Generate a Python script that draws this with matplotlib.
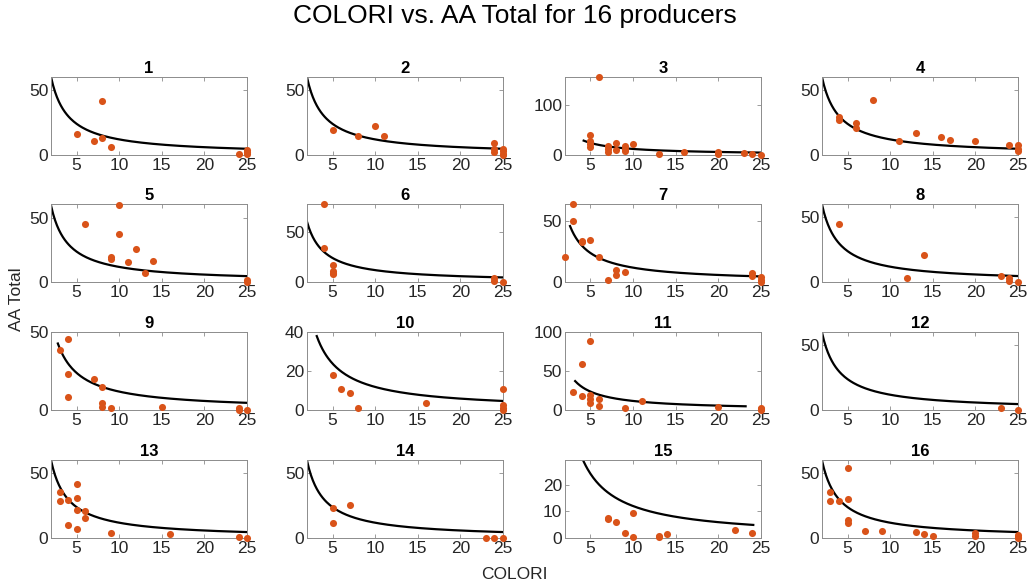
import numpy as np
import matplotlib
matplotlib.use('Agg')
import matplotlib.pyplot as plt

plt.rcParams['font.family'] = ['Liberation Sans', 'DejaVu Sans']

# COLORI / AA Total readings for each producer
colori = [
    [5, 7, 8, 8, 9, 24, 25, 25, 25],
    [5, 8, 10, 11, 24, 24, 24, 25, 25, 25, 25],
    [5, 5, 5, 5, 6, 7, 7, 7, 8, 8, 9, 9, 9, 10, 13, 16, 20, 20, 23, 24, 25],
    [4, 4, 6, 6, 8, 11, 13, 16, 17, 20, 24, 25, 25, 25],
    [6, 9, 9, 10, 10, 11, 12, 13, 14, 25, 25],
    [4, 4, 5, 5, 5, 5, 24, 24, 25],
    [2, 3, 3, 4, 4, 5, 6, 7, 8, 8, 9, 24, 24, 25, 25, 25],
    [4, 12, 14, 23, 24, 24, 25],
    [3, 4, 4, 4, 7, 8, 8, 8, 9, 15, 24, 24, 25],
    [5, 6, 7, 8, 16, 25, 25, 25, 25],
    [3, 4, 4, 5, 5, 5, 5, 6, 6, 9, 11, 20, 25, 25, 25],
    [23, 25],
    [3, 3, 4, 4, 5, 5, 5, 5, 6, 6, 9, 16, 24, 25],
    [5, 5, 7, 23, 24, 25],
    [7, 7, 8, 9, 10, 10, 13, 13, 14, 22, 24],
    [3, 3, 4, 5, 5, 5, 5, 7, 9, 13, 14, 15, 20, 20, 25, 25, 25],
]
aa_total = [
    [16.5, 10.5, 41.5, 13, 6.5, 1, 3.5, 2, 0.5],
    [19, 15, 22.5, 15, 9.5, 5, 2, 5, 3, 1, 0],
    [39, 27, 21, 16, 155, 18, 11, 5, 23, 10, 18, 12, 7, 21, 2.5, 5.5, 6.5, 2, 4.5, 2.5, 0.5],
    [29.5, 27, 24.5, 21, 42, 10.5, 17, 14, 11.5, 10.5, 8, 8, 5, 3],
    [45.5, 20, 18, 60.5, 37.5, 16, 26, 7, 16.5, 1.5, 0.3],
    [77, 34, 17, 11, 8, 9.5, 4.5, 1.5, 0.5],
    [21, 64, 50.5, 34, 33, 35, 21, 2, 10, 6, 8.5, 8, 5.5, 4, 2, 0.3],
    [45, 3, 21, 5, 3.5, 1.2, 0.4],
    [38.5, 45.5, 23.5, 8.5, 20, 15, 4.5, 2, 1.5, 2, 1.3, 0.2, 0],
    [18, 11, 9, 1, 4, 11, 2.7, 1.2, 0],
    [24, 60, 19, 89, 19.5, 15, 10, 14, 5.5, 3.5, 12.5, 4, 3.5, 1.3, 0],
    [1.5, 0],
    [36, 29, 29.5, 10.5, 42, 31, 21.5, 7, 21, 15.5, 4, 3.5, 0.7, 0],
    [23.5, 11.5, 26, 0, 0, 0],
    [7.6, 7, 6, 2, 9.3, 0.5, 0.7, 0.3, 1.6, 3.1, 2.1],
    [35.5, 29, 29, 54.5, 30.5, 14, 12, 5.5, 5.5, 5, 3.3, 1.8, 4.3, 1.8, 2.5, 1, 0],
]

# fitted model AA = k / COLORI, drawn over each producer's range
fit_k = 120
fit_start = [2, 2, 4.2, 2, 2, 2, 2.6, 2, 2.8, 3.15, 3.2, 2, 2, 2, 2, 2]
fit_end = [25, 25, 25, 25, 25, 25, 25, 25, 25, 25, 23.2, 25, 25, 25, 24.1, 25]

y_top = [60, 60, 155, 60, 61, 77, 64, 60, 50, 40, 100, 60, 60, 60, 29, 60]
y_ticks = [[0, 50], [0, 50], [0, 100], [0, 50], [0, 50], [0, 50], [0, 50], [0, 50],
           [0, 50], [0, 20, 40], [0, 50, 100], [0, 50], [0, 50], [0, 50], [0, 10, 20], [0, 50]]

fig = plt.figure(figsize=(10.29, 5.86), dpi=100)
fig.suptitle('COLORI vs. AA Total for 16 producers', fontsize=19, y=0.993)

lefts = [0.0496, 0.2983, 0.549, 0.7988]
bottoms = [0.7355, 0.5183, 0.2998, 0.0814]
w, h = 0.1905, 0.133

for i in range(16):
    r, c = divmod(i, 4)
    ax = fig.add_axes([lefts[c], bottoms[r], w, h])
    xx = np.linspace(fit_start[i], fit_end[i], 200)
    ax.plot(xx, fit_k / xx, color='black', linewidth=1.6, zorder=2)
    ax.scatter(colori[i], aa_total[i], s=26, color='#D95319', zorder=3,
               clip_on=False, linewidths=0)
    ax.set_xlim(2, 25)
    ax.set_ylim(0, y_top[i])
    ax.set_xticks([5, 10, 15, 20, 25])
    ax.set_yticks(y_ticks[i])
    ax.set_title(str(i + 1), fontsize=12, fontweight='bold', pad=3)
    ax.tick_params(direction='in', length=3, width=0.6, labelsize=12.5,
                   colors='#8c8c8c', labelcolor='#262626', top=True, right=True, pad=2)
    for sp in ax.spines.values():
        sp.set_color('#8c8c8c')
        sp.set_linewidth(0.7)

fig.text(0.5, 0.006, 'COLORI', ha='center', va='bottom', fontsize=12.5, color='#262626')
fig.text(0.009, 0.49, 'AA Total', ha='left', va='center', rotation=90, fontsize=12.5,
         color='#262626')

fig.savefig('out.png', dpi=100)
